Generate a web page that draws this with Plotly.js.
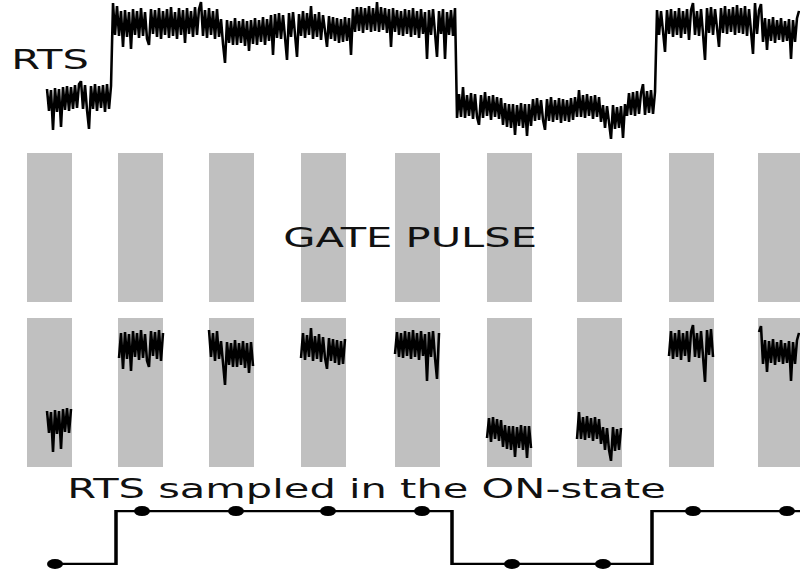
<!DOCTYPE html>
<html>
<head>
<meta charset="utf-8">
<script src="https://cdn.plot.ly/plotly-3.0.1.min.js"></script>
<style>
  html, body { margin: 0; padding: 0; background: #fff; overflow: hidden; }
  #wrap { width: 500px; height: 574px; transform: scaleX(1.6); transform-origin: 0 0; }
</style>
</head>
<body>
<div id="wrap"><div id="chart" style="width:500px;height:574px;"></div></div>
<script>
// ---- data (time in arbitrary units, signal in arbitrary units) ----
const rtsStart = 47;
const rtsStep = 2;
const rtsValues = [
  // low state
  36,14,35,-5,37,13,36,-2,38,15,39,14,38,16,40,17,41,44,16,40,15,-4,39,16,41,14,39,17,40,13,41,16,39,
  // high state
  122,90,119,89,114,78,115,88,113,76,116,90,114,87,117,89,113,86,80,116,91,115,88,117,86,114,90,116,87,118,89,113,86,117,90,115,82,117,91,114,88,118,90,116,123,89,115,87,117,90,114,86,116,88,
  106,81,62,105,82,104,80,107,80,104,82,106,79,104,74,105,81,107,80,105,83,108,80,106,84,
  110,70,111,87,112,86,110,88,65,112,88,113,85,68,111,89,114,87,112,90,119,86,111,88,113,85,110,89,78,109,86,108,84,107,82,106,83,108,84,107,70,
  116,93,118,94,118,92,117,95,119,93,117,94,123,93,118,95,117,92,116,78,117,93,115,90,
  114,89,116,91,115,88,117,90,114,87,116,91,113,66,115,90,116,89,68,114,91,116,66,113,90,115,89,117,
  // low state
  7,31,8,38,7,30,9,32,6,31,8,0,30,7,33,9,29,5,30,8,28,6,27,
  0,22,-2,21,-3,21,-10,20,-1,22,-3,21,-11,21,-1,
  26,4,27,5,25,5,-5,26,4,28,3,25,5,27,2,26,4,25,3,27,5,28,
  8,35,8,30,7,31,9,29,6,30,8,28,3,
  20,-3,19,-3,-14,20,-4,18,-3,19,-13,21,
  9,32,10,33,9,34,11,32,41,10,34,12,35,11,33,
  // high state
  115,90,114,89,73,115,91,116,88,114,90,117,87,114,91,116,85,115,122,90,114,89,
  116,91,65,117,92,118,90,116,93,78,117,92,119,91,116,93,118,90,120,92,117,91,119,89,116,92,71,122,91,115,
  121,83,107,75,106,84,108,82,105,85,107,83,104,84,106,66,105,83,107,114
];
const gateStarts = [27, 118, 209, 301, 395, 487, 577, 669, 758];
const gateWidth = 45;
const gateLevel = [1, 1, 1, 1, 1, 1, 1, 1, 1];
const stepTimes = [55, 116, 452, 652, 800];
const stepLevels = [0, 1, 0, 1, 1];
const sampleTimes = [55, 142, 236, 328, 422, 512, 603, 693, 787];
const sampleLevels = [0, 1, 1, 1, 1, 0, 0, 1, 1];
const labelTexts = ['RTS', 'GATE PULSE', 'RTS sampled in the ON-state'];

// ---- build traces ----
const rtsT = rtsValues.map((v, i) => rtsStart + i * rtsStep);

// RTS restricted to the gate windows (sampled view)
const sampT = [], sampV = [];
let prevIn = false;
rtsT.forEach((t, i) => {
  const inside = gateStarts.some(g => t >= g && t <= g + gateWidth);
  if (inside) { sampT.push(t); sampV.push(rtsValues[i]); }
  else if (prevIn) { sampT.push(t); sampV.push(null); }
  prevIn = inside;
});

const black = '#000';
const gateColor = '#c0c0c0';

const traces = [
  { type: 'scatter', mode: 'lines', x: rtsT, y: rtsValues, xaxis: 'x', yaxis: 'y',
    line: { color: black, width: 1.6 }, hoverinfo: 'skip' },
  { type: 'bar', x: gateStarts, y: gateLevel, offset: 0, width: gateWidth, xaxis: 'x', yaxis: 'y2',
    marker: { color: gateColor, line: { width: 0 } }, hoverinfo: 'skip' },
  { type: 'bar', x: gateStarts, y: gateLevel, offset: 0, width: gateWidth, xaxis: 'x', yaxis: 'y4',
    marker: { color: gateColor, line: { width: 0 } }, hoverinfo: 'skip' },
  { type: 'scatter', mode: 'lines', x: sampT, y: sampV, xaxis: 'x', yaxis: 'y3', connectgaps: false,
    line: { color: black, width: 1.6 }, hoverinfo: 'skip' },
  { type: 'scatter', mode: 'lines', x: stepTimes, y: stepLevels, xaxis: 'x', yaxis: 'y5',
    line: { color: black, width: 2.2, shape: 'hv' }, hoverinfo: 'skip', cliponaxis: false },
  { type: 'scatter', mode: 'markers', x: sampleTimes, y: sampleLevels, xaxis: 'x', yaxis: 'y5',
    marker: { color: black, size: 10 }, hoverinfo: 'skip', cliponaxis: false }
];

const H = 574;
const hidden = { visible: false, showgrid: false, zeroline: false, showticklabels: false, fixedrange: true };
const font = { family: 'DejaVu Sans, sans-serif', size: 26, color: '#111' };

const layout = {
  width: 500, height: 574,
  margin: { l: 0, r: 0, t: 0, b: 0, pad: 0 },
  paper_bgcolor: '#fff', plot_bgcolor: 'rgba(0,0,0,0)',
  showlegend: false,
  barmode: 'overlay',
  xaxis: Object.assign({}, hidden, { range: [0, 800] }),
  yaxis: Object.assign({}, hidden, { domain: [1 - 150 / H, 1], range: [-25, 125] }),
  yaxis2: Object.assign({}, hidden, { domain: [1 - 302 / H, 1 - 153 / H], range: [0, 1] }),
  yaxis4: Object.assign({}, hidden, { domain: [1 - 467 / H, 1 - 318 / H], range: [0, 1] }),
  yaxis3: Object.assign({}, hidden, { overlaying: 'y4', range: [-20, 129] }),
  yaxis5: Object.assign({}, hidden, { domain: [0, 74 / H], range: [-0.19, 1.21] }),
  annotations: [
    { text: labelTexts[0], xref: 'paper', yref: 'paper', x: 50 / 800, y: 1 - 60 / H,
      xanchor: 'center', yanchor: 'middle', showarrow: false, font: font },
    { text: labelTexts[1], xref: 'paper', yref: 'paper', x: 410.5 / 800, y: 1 - 238.5 / H,
      xanchor: 'center', yanchor: 'middle', showarrow: false, font: font },
    { text: labelTexts[2], xref: 'paper', yref: 'paper', x: 366 / 800, y: 1 - 489 / H,
      xanchor: 'center', yanchor: 'middle', showarrow: false, font: font }
  ]
};

Plotly.newPlot('chart', traces, layout, { staticPlot: true, displayModeBar: false });
</script>
</body>
</html>
